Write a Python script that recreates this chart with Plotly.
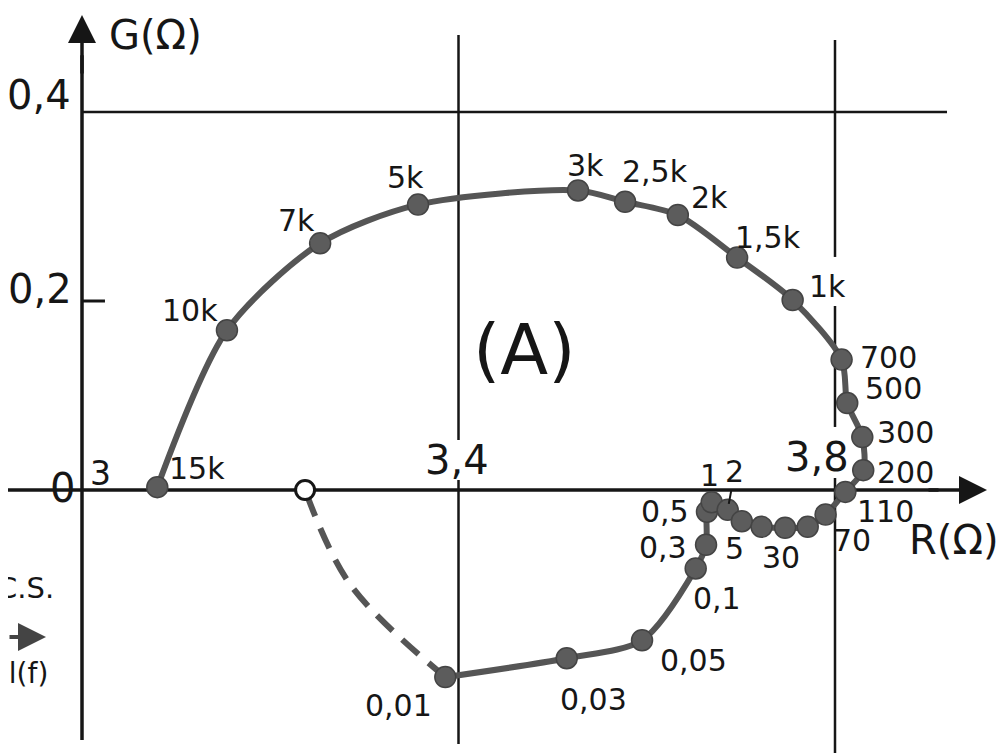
import plotly.graph_objects as go

# ---- data ----
freq_labels = ["0,01", "0,03", "0,05", "0,1", "0,3", "0,5", "1", "2", "5", "", "30", "", "70",
               "110", "200", "300", "500", "700", "1k", "1,5k", "2k", "2,5k", "3k", "5k",
               "7k", "10k", "15k"]
R_vals = [3.386, 3.515, 3.595, 3.652, 3.663, 3.664, 3.669, 3.686, 3.701, 3.722, 3.747, 3.771,
          3.790, 3.811, 3.830, 3.829, 3.813, 3.807, 3.755, 3.696, 3.633, 3.577, 3.527, 3.357,
          3.253, 3.154, 3.080]
G_vals = [-0.198, -0.178, -0.159, -0.083, -0.058, -0.023, -0.013, -0.021, -0.033, -0.039,
          -0.040, -0.039, -0.026, -0.002, 0.021, 0.056, 0.092, 0.138, 0.201, 0.246, 0.291,
          0.305, 0.317, 0.302, 0.261, 0.169, 0.003]

# extrapolated (dashed) part, ending at the open circle on the R axis
dash_R = [3.386, 3.285, 3.237]
dash_G = [-0.198, -0.100, 0.0]

x_ticks = [3.0, 3.4, 3.8]
x_tick_text = ["3", "3,4", "3,8"]
y_ticks = [0.0, 0.2, 0.4]
y_tick_text = ["0", "0,2", "0,4"]

# ---- label offsets (pixels, label centre relative to point) ----
label_offsets = [(-47, 28), (27, 41), (51, 20), (21, 30), (-43, 3), (-42, 0), (-2, -27),
                 (7, -38), (-7, 27), (0, 0), (-4, 30), (0, 0), (26, 26), (40, 20), (42, 2),
                 (43, -5), (46, -15), (47, -2), (35, -14), (31, -20), (32, -18), (30, -30),
                 (7, -25), (-13, -27), (-24, -23), (-37, -20), (40, -19)]

INK = "#161616"
CURVE = "#555555"
FONT = "DejaVu Sans"
# the page has an 8 px body margin: the figure is 999x745 and starts at (8, 8)
W, H, OFF = 999, 745, 8
XR = [2.92138, 3.98274]
YR = [-0.27831, 0.51005]


def px(p):
    return (p - OFF) / W


def py(p):
    return 1 - (p - OFF) / H


fig = go.Figure()

# dashed extrapolation
fig.add_trace(go.Scatter(x=dash_R, y=dash_G, mode="lines",
                         line=dict(color=CURVE, width=6, dash="22px,13px", shape="spline"),
                         hoverinfo="skip", showlegend=False))
# main locus
fig.add_trace(go.Scatter(x=R_vals, y=G_vals, mode="lines+markers",
                         line=dict(color=CURVE, width=6, shape="spline", smoothing=0.8),
                         marker=dict(size=21, color="#5c5c5c", line=dict(color="#444444", width=1.5)),
                         hoverinfo="skip", showlegend=False))
# open circle at the end of the dashed part
fig.add_trace(go.Scatter(x=[dash_R[-1]], y=[dash_G[-1]], mode="markers",
                         marker=dict(size=19, color="white", line=dict(color=INK, width=3)),
                         hoverinfo="skip", showlegend=False))

shapes = []


def vline(x, y0, y1, w=2.5):
    shapes.append(dict(type="line", xref="x", yref="y", x0=x, x1=x, y0=y0, y1=y1,
                       line=dict(color=INK, width=w), layer="below"))


def hline(y, x0, x1, w=2.5):
    shapes.append(dict(type="line", xref="x", yref="y", x0=x0, x1=x1, y0=y, y1=y,
                       line=dict(color=INK, width=w), layer="below"))


# vertical reference lines (with breaks around labels)
vline(3.4, -0.2687, 0.0106)
vline(3.4, 0.0529, 0.4815)
vline(3.8, -0.2783, 0.0127)
vline(3.8, 0.0667, 0.1947)
vline(3.8, 0.2466, 0.4762)
# horizontal line at 0.4, tick at 0.2
hline(0.4, 3.0, 3.919)
hline(0.2, 3.0, 3.0244, w=3)
# y axis body
vline(3.0, -0.2646, 0.46, w=3.5)
# x axis body
hline(0.0, XR[0], 3.91, w=3.5)

annotations = []
# axis arrowheads
annotations.append(dict(x=3.9615, y=0.0, xref="x", yref="y", ax=-60, ay=0, text="",
                        showarrow=True, arrowhead=2, arrowsize=1.6, arrowwidth=3.5, arrowcolor=INK))
annotations.append(dict(x=3.0, y=0.5026, xref="x", yref="y", ax=0, ay=60, text="",
                        showarrow=True, arrowhead=2, arrowsize=1.6, arrowwidth=3.5, arrowcolor=INK))

# point labels
for r, g, lab, (dx, dy) in zip(R_vals, G_vals, freq_labels, label_offsets):
    if not lab:
        continue
    if lab == "2":
        annotations.append(dict(x=r, y=g, xref="x", yref="y", text=lab, showarrow=True,
                                ax=dx, ay=dy, arrowhead=0, arrowwidth=2, arrowcolor=INK,
                                standoff=6, font=dict(family=FONT, size=30, color=INK)))
    else:
        annotations.append(dict(x=r, y=g, xref="x", yref="y", text=lab, showarrow=False,
                                xanchor="center", yanchor="middle",
                                xshift=dx, yshift=-dy, font=dict(family=FONT, size=30, color=INK)))

# tick labels
tick_x_shift = {"3": (18, 17), "3,4": (-2, 30), "3,8": (-18, 33)}
for v, t in zip(x_ticks, x_tick_text):
    sx, sy = tick_x_shift[t]
    annotations.append(dict(x=v, y=0, xref="x", yref="y", text=t, showarrow=False,
                            xanchor="center", yanchor="middle", xshift=sx, yshift=sy,
                            font=dict(family=FONT, size=33 if t == "3" else 40, color=INK)))
tick_y_shift = {"0": (-5, 2), "0,2": (-8, 12), "0,4": (-9, 17)}
for v, t in zip(y_ticks, y_tick_text):
    sx, sy = tick_y_shift[t]
    annotations.append(dict(x=3.0, y=v, xref="x", yref="y", text=t, showarrow=False,
                            xanchor="right", yanchor="middle", xshift=sx, yshift=sy,
                            font=dict(family=FONT, size=40, color=INK)))

# axis titles and the "(A)" mark
annotations.append(dict(x=px(155), y=py(35), xref="paper", yref="paper", text="G(Ω)",
                        xanchor="center", yanchor="middle",
                        showarrow=False, font=dict(family=FONT, size=40, color=INK)))
annotations.append(dict(x=px(954), y=py(540), xref="paper", yref="paper", text="R(Ω)",
                        xanchor="center", yanchor="middle",
                        showarrow=False, font=dict(family=FONT, size=40, color=INK)))
annotations.append(dict(x=px(524), y=py(350), xref="paper", yref="paper", text="(A)",
                        xanchor="center", yanchor="middle",
                        showarrow=False, font=dict(family=FONT, size=70, color=INK)))
# left-edge fragments
annotations.append(dict(x=px(56), y=py(588), xref="paper", yref="paper", text="C.S.",
                        xanchor="right", yanchor="middle",
                        showarrow=False, font=dict(family=FONT, size=29, color=INK)))
annotations.append(dict(x=px(50), y=py(673), xref="paper", yref="paper", text="Gol(f)",
                        xanchor="right", yanchor="middle",
                        showarrow=False, font=dict(family=FONT, size=28, color=INK)))
annotations.append(dict(x=px(46), y=py(637), xref="paper", yref="paper", text="",
                        ax=-60, ay=0, showarrow=True, arrowhead=2, arrowsize=1.4, arrowwidth=4,
                        arrowcolor="#444444"))

fig.update_layout(
    width=W, height=H,
    margin=dict(l=0, r=0, t=0, b=0),
    paper_bgcolor="white", plot_bgcolor="white",
    xaxis=dict(range=XR, visible=False, fixedrange=True),
    yaxis=dict(range=YR, visible=False, fixedrange=True),
    shapes=shapes, annotations=annotations, showlegend=False,
)

fig.write_html("out.html", config={"displayModeBar": False})
